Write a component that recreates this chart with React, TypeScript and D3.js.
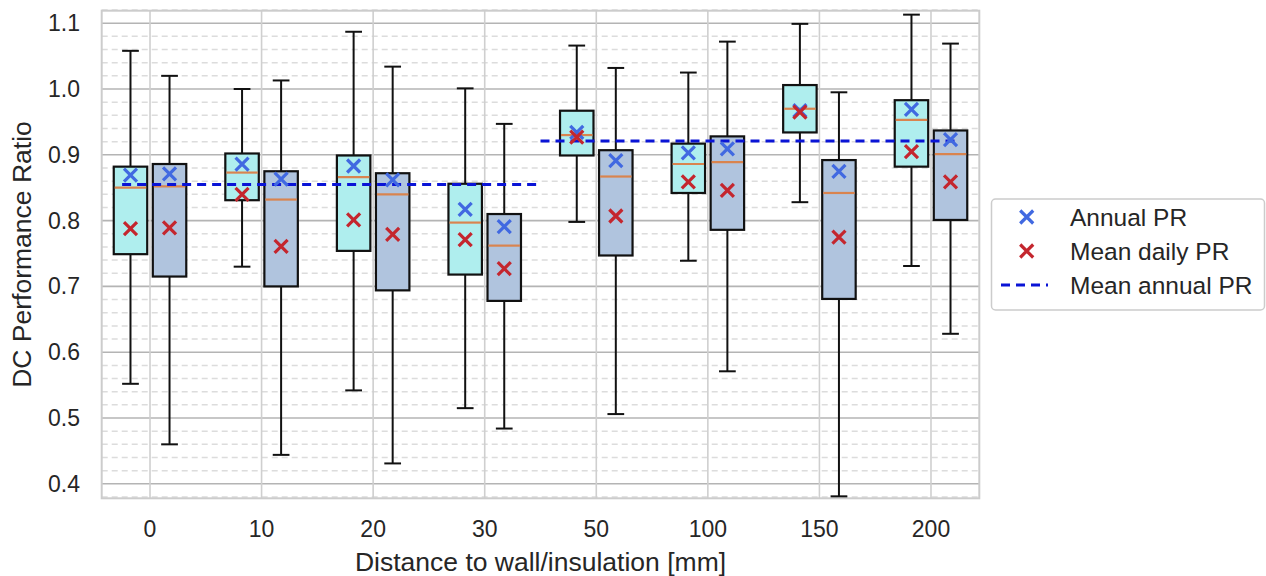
import React from "react";
import * as d3 from "d3";

const categories = ["0", "10", "20", "30", "50", "100", "150", "200"];

// Series A (turquoise boxes, left)
const aLow = [0.552, 0.730, 0.542, 0.515, 0.798, 0.739, 0.828, 0.731];
const aQ1 = [0.749, 0.831, 0.754, 0.718, 0.899, 0.842, 0.934, 0.882];
const aMed = [0.850, 0.873, 0.866, 0.797, 0.930, 0.886, 0.970, 0.953];
const aQ3 = [0.882, 0.902, 0.899, 0.856, 0.967, 0.917, 1.006, 0.983];
const aHigh = [1.058, 1.000, 1.087, 1.001, 1.066, 1.025, 1.099, 1.113];
const aAnnual = [0.869, 0.886, 0.883, 0.817, 0.934, 0.903, 0.967, 0.969];
const aDaily = [0.788, 0.840, 0.801, 0.771, 0.927, 0.859, 0.965, 0.905];

// Series B (light steel blue boxes, right)
const bLow = [0.460, 0.444, 0.431, 0.484, 0.506, 0.571, 0.381, 0.628];
const bQ1 = [0.715, 0.700, 0.694, 0.678, 0.747, 0.786, 0.681, 0.801];
const bMed = [0.852, 0.832, 0.840, 0.762, 0.867, 0.889, 0.842, 0.901];
const bQ3 = [0.886, 0.875, 0.872, 0.810, 0.907, 0.928, 0.892, 0.937];
const bHigh = [1.020, 1.013, 1.034, 0.947, 1.032, 1.072, 0.995, 1.069];
const bAnnual = [0.871, 0.863, 0.862, 0.791, 0.891, 0.909, 0.875, 0.923];
const bDaily = [0.789, 0.761, 0.779, 0.727, 0.807, 0.846, 0.775, 0.859];

// Mean annual PR segments
const meanAnnualValues = [0.855, 0.921];
const meanAnnualStart = [-0.25, 3.5];
const meanAnnualEnd = [3.5, 7.25];

const yTicks = [0.4, 0.5, 0.6, 0.7, 0.8, 0.9, 1.0, 1.1];
const legendLabels = ["Annual PR", "Mean daily PR", "Mean annual PR"];

const FONT = "'Liberation Sans', Arial, 'DejaVu Sans', sans-serif";
const TEXT = "#262626";
const FILL_A = "#AFEEEE";
const FILL_B = "#B0C4DE";
const MEDIAN = "#d9844f";
const BLUE_X = "#4169e1";
const RED_X = "#c4262e";
const DASH_BLUE = "#0a14d6";

export default function App() {
  const W = 1266;
  const H = 576;
  const x = d3.scaleLinear().domain([-0.433, 7.433]).range([101.7, 979.3]);
  const y = d3.scaleLinear().domain([0.378, 1.119]).range([498.3, 10.7]);

  const boxW = x(0.3) - x(0);
  const capW = boxW / 2;
  const offs = 0.175;

  const minor: number[] = [];
  for (let i = 19; i <= 56; i++) {
    const v = i / 50;
    if (i % 5 !== 0) minor.push(v);
  }

  const series = [
    { off: -offs, fill: FILL_A, low: aLow, q1: aQ1, med: aMed, q3: aQ3, high: aHigh, ann: aAnnual, daily: aDaily },
    { off: offs, fill: FILL_B, low: bLow, q1: bQ1, med: bMed, q3: bQ3, high: bHigh, ann: bAnnual, daily: bDaily },
  ];

  const xMark = (cx: number, cy: number, color: string, key: string) => {
    const s = 6.5;
    return (
      <path
        key={key}
        d={`M${cx - s},${cy - s}L${cx + s},${cy + s}M${cx - s},${cy + s}L${cx + s},${cy - s}`}
        stroke={color}
        strokeWidth={3.2}
        fill="none"
      />
    );
  };

  return (
    <svg
      width={W}
      height={H}
      style={{ position: "absolute", left: 0, top: 0, background: "#fff" }}
      fontFamily={FONT}
    >
      <rect x={0} y={0} width={W} height={H} fill="#fff" />
      {/* minor grid */}
      {minor.map((v, i) => (
        <line key={"mn" + i} x1={x.range()[0]} x2={x.range()[1]} y1={y(v)} y2={y(v)}
          stroke="#dcdcdc" strokeWidth={1.5} strokeDasharray="6,4" />
      ))}
      {/* major grid */}
      {yTicks.map((v, i) => (
        <line key={"mj" + i} x1={x.range()[0]} x2={x.range()[1]} y1={y(v)} y2={y(v)}
          stroke="#b4b4b4" strokeWidth={1.6} />
      ))}
      {categories.map((c, i) => (
        <line key={"vg" + i} x1={x(i)} x2={x(i)} y1={y.range()[0]} y2={y.range()[1]}
          stroke="#cfcfcf" strokeWidth={1.6} />
      ))}
      {/* spines */}
      <rect x={x.range()[0]} y={y.range()[1]} width={x.range()[1] - x.range()[0]}
        height={y.range()[0] - y.range()[1]} fill="none" stroke="#cccccc" strokeWidth={2} />

      {/* boxes */}
      {series.map((s, si) =>
        categories.map((c, i) => {
          const cx = x(i + s.off);
          return (
            <g key={"b" + si + "-" + i}>
              <line x1={cx} x2={cx} y1={y(s.q3[i])} y2={y(s.high[i])} stroke="#111" strokeWidth={2} />
              <line x1={cx} x2={cx} y1={y(s.q1[i])} y2={y(s.low[i])} stroke="#111" strokeWidth={2} />
              <line x1={cx - capW / 2} x2={cx + capW / 2} y1={y(s.high[i])} y2={y(s.high[i])} stroke="#111" strokeWidth={2} />
              <line x1={cx - capW / 2} x2={cx + capW / 2} y1={y(s.low[i])} y2={y(s.low[i])} stroke="#111" strokeWidth={2} />
              <rect x={cx - boxW / 2} y={y(s.q3[i])} width={boxW} height={y(s.q1[i]) - y(s.q3[i])}
                fill={s.fill} stroke="#111" strokeWidth={2.2} />
              <line x1={cx - boxW / 2 + 1} x2={cx + boxW / 2 - 1} y1={y(s.med[i])} y2={y(s.med[i])} stroke={MEDIAN} strokeWidth={2.2} />
            </g>
          );
        })
      )}

      {/* mean annual PR dashed */}
      {meanAnnualValues.map((v, i) => (
        <line key={"ma" + i} x1={x(meanAnnualStart[i])} x2={x(meanAnnualEnd[i])} y1={y(v)} y2={y(v)}
          stroke={DASH_BLUE} strokeWidth={3} strokeDasharray="9,6" />
      ))}

      {/* markers */}
      {series.map((s, si) =>
        categories.map((c, i) => {
          const cx = x(i + s.off);
          return (
            <g key={"m" + si + "-" + i}>
              {xMark(cx, y(s.ann[i]), BLUE_X, "a")}
              {xMark(cx, y(s.daily[i]), RED_X, "d")}
            </g>
          );
        })
      )}

      {/* y tick labels */}
      {yTicks.map((v, i) => (
        <text key={"yt" + i} x={80} y={y(v)} dy="0.35em" textAnchor="end" fontSize={23} fill={TEXT}>
          {d3.format(".1f")(v)}
        </text>
      ))}
      {/* x tick labels */}
      {categories.map((c, i) => (
        <text key={"xt" + i} x={x(i)} y={529} dy="0.35em" textAnchor="middle" fontSize={23} fill={TEXT}>
          {c}
        </text>
      ))}
      <text x={540.5} y={562} dy="0.35em" textAnchor="middle" fontSize={26.5} fill={TEXT}>
        Distance to wall/insulation [mm]
      </text>
      <text transform={`translate(22,${y.range()[1] + (y.range()[0] - y.range()[1]) / 2}) rotate(-90)`}
        dy="0.35em" textAnchor="middle" fontSize={26.5} fill={TEXT}>
        DC Performance Ratio
      </text>

      {/* legend */}
      <rect x={991.5} y={199} width={273} height={111} rx={4} fill="#fff" stroke="#cccccc" strokeWidth={1.5} />
      {xMark(1026.7, 217, BLUE_X, "l1")}
      {xMark(1026.7, 251, RED_X, "l2")}
      <line x1={1001} x2={1048} y1={285} y2={285} stroke={DASH_BLUE} strokeWidth={3} strokeDasharray="9,6" />
      {legendLabels.map((l, i) => (
        <text key={"lg" + i} x={1070} y={217 + i * 34} dy="0.35em" fontSize={24.5} fill={TEXT}>
          {l}
        </text>
      ))}
    </svg>
  );
}
